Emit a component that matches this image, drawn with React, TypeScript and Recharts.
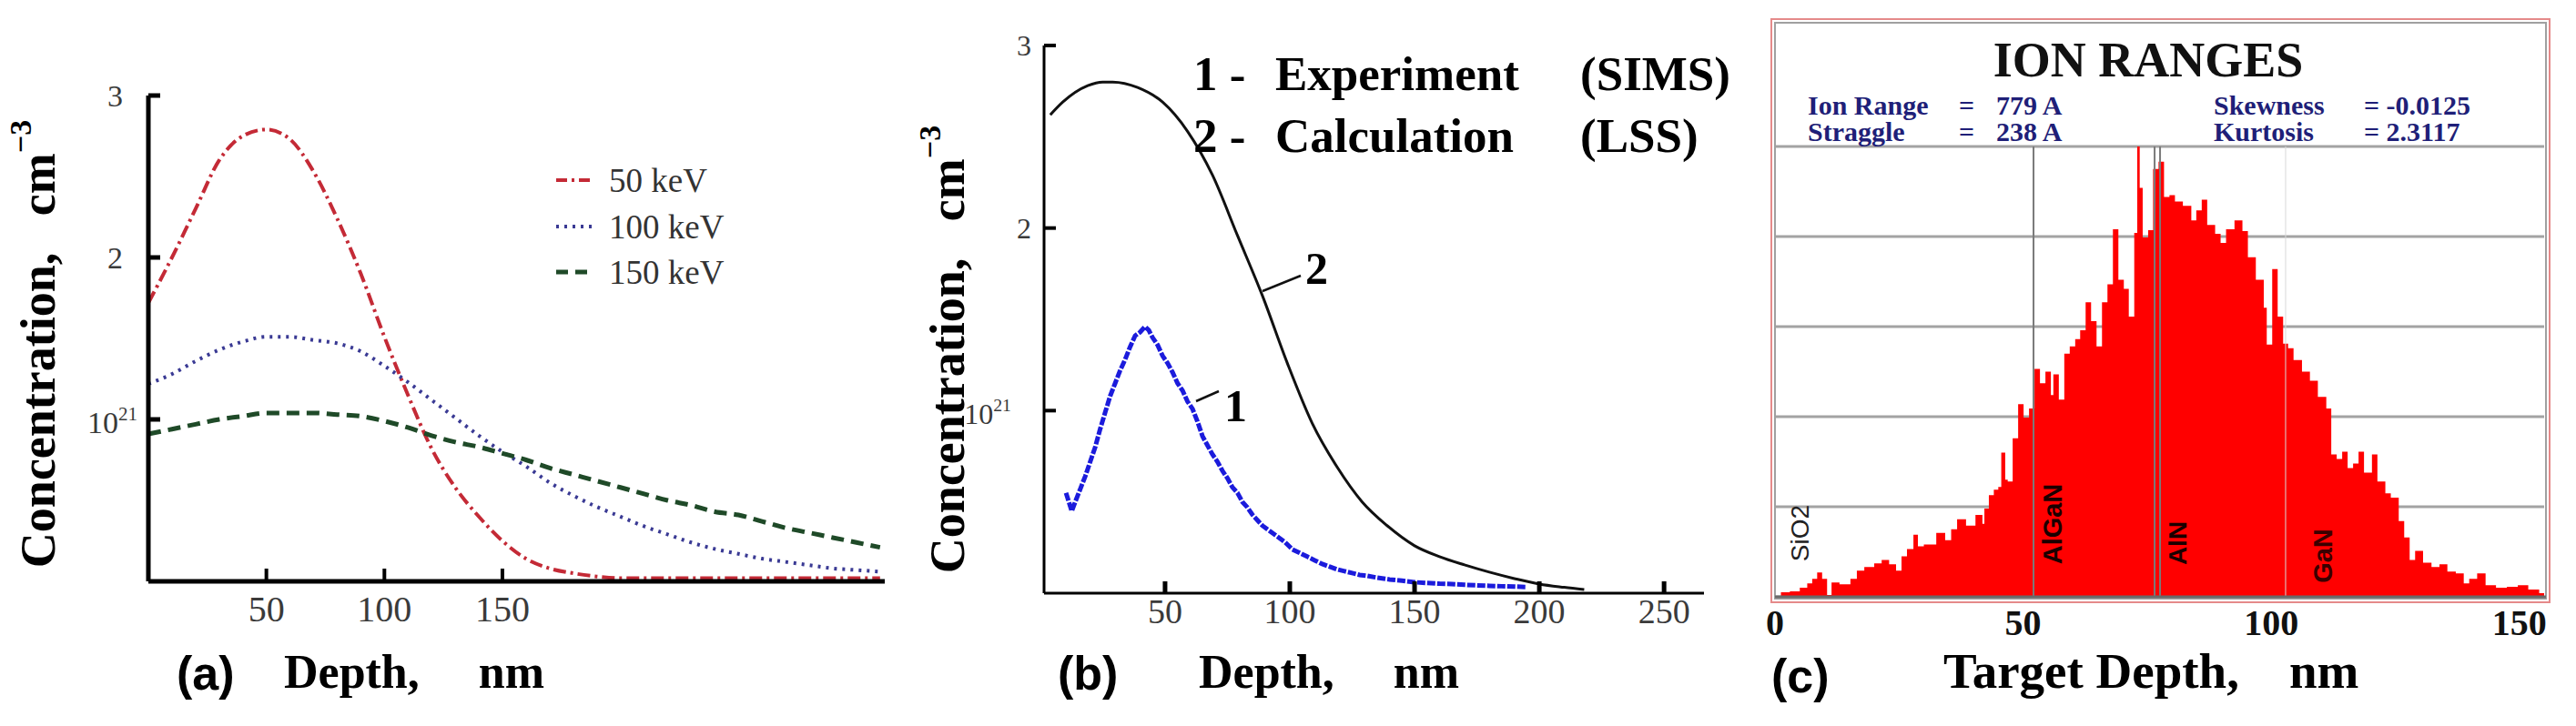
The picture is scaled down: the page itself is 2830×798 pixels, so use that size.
import React from 'react';
import { LineChart, Line, XAxis, YAxis, AreaChart, Area, CartesianGrid, ReferenceLine } from 'recharts';

// ---------- Panel (a) ----------
const depthA = [0, 10, 20, 30, 40, 50, 60, 70, 80, 90, 100, 110, 120, 130, 140, 150, 160, 170, 180, 190, 200, 210, 220, 230, 240, 250, 260, 270, 280, 290, 300, 310];
const conc50keV = [1.72, 2.0, 2.3, 2.6, 2.75, 2.79, 2.73, 2.53, 2.24, 1.9, 1.51, 1.15, 0.82, 0.58, 0.4, 0.25, 0.14, 0.08, 0.05, 0.03, 0.02, 0.02, 0.02, 0.02, 0.02, 0.02, 0.02, 0.02, 0.02, 0.02, 0.02, 0.02];
const conc100keV = [1.22, 1.28, 1.36, 1.43, 1.48, 1.51, 1.51, 1.49, 1.47, 1.42, 1.33, 1.23, 1.12, 1.01, 0.9, 0.8, 0.71, 0.61, 0.53, 0.46, 0.4, 0.34, 0.29, 0.24, 0.2, 0.17, 0.14, 0.12, 0.1, 0.08, 0.07, 0.06];
const conc150keV = [0.91, 0.94, 0.97, 1.0, 1.02, 1.04, 1.04, 1.04, 1.03, 1.02, 0.99, 0.95, 0.9, 0.86, 0.83, 0.79, 0.75, 0.7, 0.66, 0.62, 0.58, 0.54, 0.5, 0.47, 0.43, 0.41, 0.37, 0.33, 0.3, 0.27, 0.24, 0.21];
const ticksAX = [50, 100, 150];
const ticksConc = [1, 2, 3];
const legendA = ['50 keV', '100 keV', '150 keV'];

// ---------- Panel (b) ----------
const depthLSS = [4, 9, 19, 25, 29, 39, 49, 59, 69, 79, 89, 99, 109, 119, 129, 139, 150, 160, 170, 180, 190, 200, 210, 218];
const concLSS = [2.62, 2.69, 2.78, 2.8, 2.8, 2.77, 2.69, 2.53, 2.29, 1.96, 1.63, 1.26, 0.93, 0.69, 0.5, 0.37, 0.26, 0.2, 0.155, 0.115, 0.08, 0.05, 0.032, 0.02];
const depthSIMS = [10.3, 12.6, 14, 16, 18, 20, 22, 24, 26, 28, 30, 32, 34, 36, 38, 40, 42, 43.5, 45, 47, 49, 51, 53, 55, 57, 59, 61, 63, 65, 67, 69, 71, 73, 75, 77, 79, 81, 83, 85, 87, 89, 91, 93, 95, 98, 101, 104, 107, 110, 113, 116, 119, 122, 125, 128, 131, 135, 140, 145, 150, 155, 160, 165, 170, 175, 180, 185, 190, 195];
const concSIMS = [0.55, 0.45, 0.5, 0.57, 0.64, 0.72, 0.8, 0.9, 0.99, 1.08, 1.15, 1.22, 1.28, 1.35, 1.41, 1.43, 1.46, 1.44, 1.4, 1.36, 1.3, 1.26, 1.21, 1.15, 1.11, 1.05, 1.01, 0.94, 0.86, 0.81, 0.76, 0.72, 0.67, 0.63, 0.58, 0.55, 0.5, 0.47, 0.43, 0.4, 0.37, 0.35, 0.33, 0.31, 0.28, 0.24, 0.22, 0.2, 0.18, 0.16, 0.145, 0.13, 0.12, 0.11, 0.1, 0.095, 0.085, 0.075, 0.068, 0.06, 0.056, 0.052, 0.05, 0.046, 0.043, 0.04, 0.038, 0.036, 0.034];
const ticksBX = [50, 100, 150, 200, 250];

// ---------- Panel (c) ----------
const depthC = [0, 1.2, 3, 5, 6.5, 7.5, 8.5, 9.5, 10.5, 11.4, 13, 15.2, 16.5, 18, 20, 21.5, 23, 24.4, 25.5, 26.6, 27.9, 28.8, 30, 31.2, 32.5, 34.3, 35.5, 36.7, 38.5, 40.4, 41.8, 42.2, 43.1, 44.1, 45.0, 45.6, 46.4, 46.9, 47.9, 49.0, 50.1, 51.2, 52.3, 53.4, 54.5, 55.6, 56.1, 57.2, 58.3, 59.4, 60.5, 61.5, 62.6, 63.7, 64.8, 65.9, 67.0, 68.1, 69.2, 70.3, 71.3, 72.4, 73.0, 73.5, 74.1, 75.2, 76.2, 77.3, 78.4, 79.5, 80.6, 82.2, 83.9, 84.9, 86.0, 87.1, 88.7, 89.8, 90.9, 92.6, 94.2, 95.3, 96.9, 98.5, 99.1, 100.2, 101.3, 102.4, 103.4, 104.5, 106.2, 107.8, 109.4, 111.1, 112.1, 113.2, 114.3, 115.4, 116.5, 117.6, 118.7, 120.3, 121.4, 123.0, 124.1, 125.7, 126.8, 127.9, 129.0, 130.6, 132.3, 133.9, 135.5, 137.2, 138.8, 139.9, 141.5, 143.2, 145.3, 147.5, 149.7, 151.8, 154.0, 155];
const countC = [0, 0.05, 0.06, 0.1, 0.15, 0.2, 0.27, 0.2, 0.02, 0.16, 0.14, 0.2, 0.29, 0.33, 0.37, 0.41, 0.36, 0.29, 0.45, 0.53, 0.69, 0.56, 0.58, 0.58, 0.71, 0.63, 0.75, 0.86, 0.79, 0.91, 0.81, 0.98, 1.13, 1.19, 1.22, 1.6, 1.3, 1.28, 1.76, 2.14, 1.99, 2.09, 2.53, 2.37, 2.5, 2.24, 2.47, 2.19, 2.7, 2.78, 2.86, 2.96, 3.27, 3.06, 2.78, 3.27, 3.47, 4.08, 3.52, 3.42, 3.11, 4.04, 5.0, 4.54, 3.99, 4.07, 4.75, 4.83, 4.44, 4.46, 4.39, 4.34, 4.18, 4.29, 4.41, 4.13, 4.03, 3.93, 4.08, 4.18, 4.06, 3.77, 3.52, 3.21, 2.8, 3.64, 3.11, 2.81, 2.76, 2.63, 2.5, 2.4, 2.22, 2.09, 1.58, 1.53, 1.61, 1.43, 1.48, 1.61, 1.38, 1.58, 1.28, 1.15, 1.1, 0.84, 0.66, 0.41, 0.51, 0.38, 0.33, 0.36, 0.28, 0.26, 0.15, 0.2, 0.26, 0.13, 0.1, 0.11, 0.13, 0.08, 0.04, 0];
const ticksCX = [0, 50, 100, 150];
const gridC = [0, 1, 2, 3, 4, 5];
const layerBounds = [52.1, 76.5, 77.6];
const faintBound = 102.9;
const layerNames = ['SiO2', 'AlGaN', 'AlN', 'GaN'];

const dataA = depthA.map((d, i) => ({ d, e50: conc50keV[i], e100: conc100keV[i], e150: conc150keV[i] }));
const dataLSS = depthLSS.map((d, i) => ({ d, v: concLSS[i] }));
const dataSIMS = depthSIMS.map((d, i) => ({ d, v: concSIMS[i] }));
const dataC = depthC.map((d, i) => ({ d, v: countC[i] }));

const serif = '"Liberation Serif", "Times New Roman", serif';
const sans = '"Liberation Sans", Arial, sans-serif';
const RED = '#c42a36';
const NAVY = '#3a3a94';
const GREEN = '#1f4a28';
const BLUE = '#1b1bdc';

const XTick = (props: any) => {
  const { x, y, payload, len, sw, dy, fs, bold, fill } = props;
  const axisY = y - 10;
  return (
    <g>
      {len > 0 && <line x1={x} x2={x} y1={axisY} y2={axisY - len} stroke="#000" strokeWidth={sw} />}
      <text x={x} y={axisY + dy} textAnchor="middle" fontFamily={serif} fontSize={fs} fontWeight={bold ? 'bold' : 'normal'} fill={fill}>
        {payload.value}
      </text>
    </g>
  );
};

const YTick = (props: any) => {
  const { x, y, payload, len, sw, fs, numGap, supGap, fill } = props;
  const axisX = x + 10;
  const v = payload.value;
  return (
    <g>
      <line x1={axisX} x2={axisX + len} y1={y} y2={y} stroke="#000" strokeWidth={sw} />
      {v === 1 ? (
        <text x={axisX - supGap} y={y + fs * 0.45} textAnchor="end" fontFamily={serif} fontSize={fs} fill={fill}>
          10<tspan dy={-fs * 0.42} fontSize={fs * 0.62}>21</tspan>
        </text>
      ) : (
        <text x={axisX - numGap} y={y + fs * 0.34} textAnchor="end" fontFamily={serif} fontSize={fs} fill={fill}>
          {v}
        </text>
      )}
    </g>
  );
};

const boldSerif = { fontFamily: serif, fontWeight: 'bold' as const, whiteSpace: 'pre' as const };

export default function App() {
  return (
    <div style={{ position: 'absolute', left: 0, top: 0, width: 2830, height: 798, background: '#fff', overflow: 'hidden' }}>
      {/* Panel (a) */}
      <div style={{ position: 'absolute', left: 0, top: 0 }}>
        <LineChart width={1000} height={798} data={dataA} margin={{ top: 105, right: 28, bottom: 129, left: 103 }}>
          <XAxis dataKey="d" type="number" domain={[0, 312]} ticks={ticksAX} height={30} tickSize={0} tickMargin={10}
            axisLine={{ stroke: '#000', strokeWidth: 5 }}
            tick={(p: any) => <XTick {...p} len={14} sw={4} dy={44} fs={40} fill="#3a3a3a" />} />
          <YAxis type="number" domain={[0, 3]} ticks={ticksConc} width={60} tickSize={0} tickMargin={10}
            axisLine={{ stroke: '#000', strokeWidth: 5 }}
            tick={(p: any) => <YTick {...p} len={13} sw={5} fs={34} numGap={28} supGap={12} fill="#3a3a3a" />} />
          <Line dataKey="e50" type="monotone" stroke={RED} strokeWidth={4} strokeDasharray="14 5 3 5" dot={false} isAnimationActive={false} />
          <Line dataKey="e100" type="monotone" stroke={NAVY} strokeWidth={4} strokeDasharray="3 6" dot={false} isAnimationActive={false} />
          <Line dataKey="e150" type="monotone" stroke={GREEN} strokeWidth={5} strokeDasharray="14 8" dot={false} isAnimationActive={false} />
        </LineChart>
      </div>

      {/* Panel (b) */}
      <div style={{ position: 'absolute', left: 1000, top: 0 }}>
        <LineChart width={900} height={798} margin={{ top: 50, right: 28, bottom: 116, left: 87 }}>
          <XAxis dataKey="d" type="number" domain={[1.5, 266]} ticks={ticksBX} height={30} tickSize={0} tickMargin={10}
            axisLine={{ stroke: '#000', strokeWidth: 3 }} allowDataOverflow
            tick={(p: any) => <XTick {...p} len={13} sw={5} dy={33} fs={38} fill="#3a3a3a" />} />
          <YAxis type="number" domain={[0, 3]} ticks={ticksConc} width={60} tickSize={0} tickMargin={10}
            axisLine={{ stroke: '#000', strokeWidth: 3 }}
            tick={(p: any) => <YTick {...p} len={13} sw={4} fs={32} numGap={14} supGap={36} fill="#3a3a3a" />} />
          <Line data={dataLSS} dataKey="v" type="monotone" stroke="#111" strokeWidth={3} dot={false} isAnimationActive={false} />
          <Line data={dataSIMS} dataKey="v" type="linear" stroke={BLUE} strokeWidth={5} strokeDasharray="9 2" dot={false} isAnimationActive={false} />
        </LineChart>
      </div>

      {/* Panel (c) */}
      <div style={{ position: 'absolute', left: 1900, top: 0 }}>
        <AreaChart width={930} height={798} data={dataC} margin={{ top: 161, right: 35, bottom: 112, left: 50 }}>
          <CartesianGrid vertical={false} stroke="#a3a3a3" strokeWidth={3} />
          <XAxis dataKey="d" type="number" domain={[0, 155]} ticks={ticksCX} height={30} tickSize={0} tickMargin={10}
            axisLine={false}
            tick={(p: any) => <XTick {...p} len={0} sw={0} dy={42} fs={40} bold fill="#111" />} />
          <YAxis hide type="number" domain={[0, 5]} ticks={gridC} />
          <Area dataKey="v" type="stepAfter" stroke="none" fill="#ff0000" fillOpacity={1} isAnimationActive={false} />
          {layerBounds.map((b) => (
            <ReferenceLine key={b} x={b} stroke="#7a7a7a" strokeWidth={2} />
          ))}
          <ReferenceLine x={faintBound} stroke="#d8d8d8" strokeWidth={1} />
        </AreaChart>
      </div>

      {/* Annotations */}
      <svg width={2830} height={798} style={{ position: 'absolute', left: 0, top: 0, pointerEvents: 'none' }}>
        {/* (a) legend */}
        <line x1={611} x2={650} y1={198} y2={198} stroke={RED} strokeWidth={4} strokeDasharray="12 5 3 5" />
        <line x1={611} x2={650} y1={249} y2={249} stroke={NAVY} strokeWidth={4} strokeDasharray="3 6" />
        <line x1={611} x2={650} y1={299} y2={299} stroke={GREEN} strokeWidth={5} strokeDasharray="13 8" />
        {legendA.map((t, i) => (
          <text key={t} x={669} y={[211, 262, 312][i]} fontFamily={serif} fontSize={37} fill="#333">{t}</text>
        ))}
        {/* (a) labels */}
        <text transform="translate(42,378) rotate(-90)" textAnchor="middle" dominantBaseline="central" fontSize={54} style={boldSerif}>
          Concentration,   cm<tspan dy={-20} fontSize={34}>−3</tspan>
        </text>
        <text x={194} y={758} fontFamily={sans} fontWeight="bold" fontSize={52}>(a)</text>
        <text x={312} y={756} fontSize={52} style={boldSerif}>Depth,     nm</text>

        {/* (b) labels */}
        <text transform="translate(1041,384) rotate(-90)" textAnchor="middle" dominantBaseline="central" fontSize={54} style={boldSerif}>
          Concentration,   cm<tspan dy={-20} fontSize={34}>−3</tspan>
        </text>
        <text x={1162} y={758} fontFamily={sans} fontWeight="bold" fontSize={52}>(b)</text>
        <text x={1317} y={756} fontSize={52} style={boldSerif}>Depth,     nm</text>
        <text x={1311} y={99} fontSize={53} style={boldSerif}>1 -</text>
        <text x={1401} y={99} fontSize={53} style={boldSerif}>Experiment</text>
        <text x={1736} y={99} fontSize={53} style={boldSerif}>(SIMS)</text>
        <text x={1311} y={167} fontSize={53} style={boldSerif}>2 -</text>
        <text x={1401} y={167} fontSize={53} style={boldSerif}>Calculation</text>
        <text x={1736} y={167} fontSize={53} style={boldSerif}>(LSS)</text>
        <line x1={1387} y1={320} x2={1429} y2={303} stroke="#111" strokeWidth={2.5} />
        <text x={1434} y={312} fontSize={50} style={boldSerif}>2</text>
        <line x1={1314} y1={441} x2={1339} y2={430} stroke="#111" strokeWidth={2.5} />
        <text x={1345} y={463} fontSize={50} style={boldSerif}>1</text>

        {/* (c) frame */}
        <rect x={1946} y={21} width={855} height={641} fill="none" stroke="#e58a8a" strokeWidth={2} />
        <rect x={1950} y={25} width={847} height={633} fill="none" stroke="#a0a0a0" strokeWidth={2} />
        <line x1={1950} x2={2797} y1={656} y2={656} stroke="#6a6a6a" strokeWidth={3} />
        <text x={2360} y={84} textAnchor="middle" fontFamily={serif} fontWeight="bold" fontSize={54} fill="#111">ION RANGES</text>
        <g fontFamily={serif} fontWeight="bold" fontSize={30} fill="#1f1f78">
          <text x={1986} y={126}>Ion Range</text>
          <text x={2152} y={126}>=</text>
          <text x={2193} y={126}>779 A</text>
          <text x={2432} y={126}>Skewness</text>
          <text x={2597} y={126}>= -0.0125</text>
          <text x={1986} y={155}>Straggle</text>
          <text x={2152} y={155}>=</text>
          <text x={2193} y={155}>238 A</text>
          <text x={2432} y={155}>Kurtosis</text>
          <text x={2597} y={155}>= 2.3117</text>
        </g>
        <text transform="translate(1977,586) rotate(-90)" textAnchor="middle" dominantBaseline="central" fontFamily={sans} fontSize={28} fill="#222">{layerNames[0]}</text>
        <text transform="translate(2255,576) rotate(-90)" textAnchor="middle" dominantBaseline="central" fontFamily={sans} fontWeight="bold" fontSize={29} fill="#1a0000">{layerNames[1]}</text>
        <text transform="translate(2392,597) rotate(-90)" textAnchor="middle" dominantBaseline="central" fontFamily={sans} fontWeight="bold" fontSize={28} fill="#1a0000">{layerNames[2]}</text>
        <text transform="translate(2552,611) rotate(-90)" textAnchor="middle" dominantBaseline="central" fontFamily={sans} fontWeight="bold" fontSize={29} fill="#3a0000">{layerNames[3]}</text>
        <text x={1946} y={761} fontFamily={sans} fontWeight="bold" fontSize={52}>(c)</text>
        <text x={2135} y={756} fontSize={55} style={boldSerif}>Target Depth,    nm</text>
      </svg>
    </div>
  );
}
